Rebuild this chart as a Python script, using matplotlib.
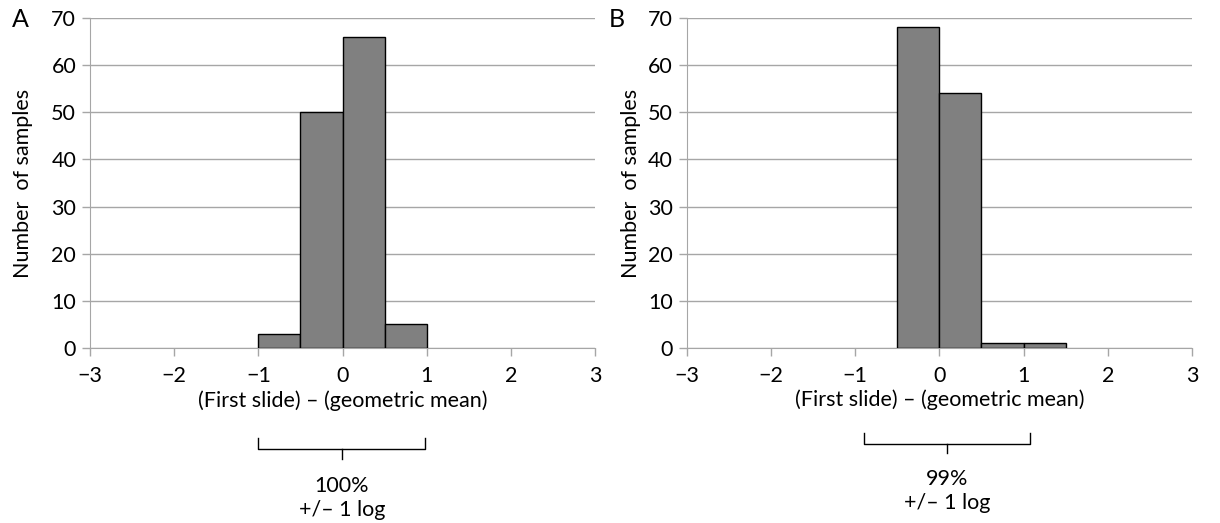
import matplotlib.pyplot as plt
import matplotlib.transforms as mtransforms

plt.rcParams['font.family'] = ['Lato', 'DejaVu Sans']

# histogram bins (left edges) and counts, bin width 0.5
edges_a = [-1.0, -0.5, 0.0, 0.5]
counts_a = [3, 50, 66, 5]
edges_b = [-0.5, 0.0, 0.5, 1.0]
counts_b = [68, 54, 1, 1]
bin_width = 0.5

xticks = [-3, -2, -1, 0, 1, 2, 3]
xtick_labels = ['\u22123', '\u22122', '\u22121', '0', '1', '2', '3']
yticks = [0, 10, 20, 30, 40, 50, 60, 70]

panels = [
    dict(letter='A', edges=edges_a, counts=counts_a, left=0.0738, ypad=13,
         xlabel_y=-0.16, br=(-1.0, 0.98), br_y=(-0.272, -0.306, -0.336),
         pct='100%', pct_y=-0.455),
    dict(letter='B', edges=edges_b, counts=counts_b, left=0.563, ypad=5,
         xlabel_y=-0.158, br=(-0.9, 1.08), br_y=(-0.258, -0.29, -0.318),
         pct='99%', pct_y=-0.432),
]

fig = plt.figure(figsize=(12.2, 5.23), dpi=100)
grey = '#a6a6a6'
fs = 15.5

for p in panels:
    ax = fig.add_axes([p['left'], 0.3346, 0.414, 0.631])
    ax.bar(p['edges'], p['counts'], width=bin_width, align='edge',
           color='#808080', edgecolor='black', linewidth=1, zorder=3)
    ax.set_xlim(-3, 3)
    ax.set_ylim(0, 70)
    ax.set_xticks(xticks)
    ax.set_xticklabels(xtick_labels)
    ax.set_yticks(yticks)
    ax.yaxis.grid(True, color=grey, linewidth=1, zorder=0)
    for s in ['top', 'right']:
        ax.spines[s].set_visible(False)
    for s in ['left', 'bottom']:
        ax.spines[s].set_color(grey)
    ax.tick_params(axis='both', colors=grey, labelcolor='black',
                   labelsize=fs, length=6, width=1, direction='out')
    ax.tick_params(axis='x', pad=7)
    ax.tick_params(axis='y', pad=4)
    ax.set_ylabel('Number  of samples', fontsize=fs, labelpad=p['ypad'])
    ax.text(-0.155, 0.995, p['letter'], transform=ax.transAxes,
            fontsize=18, ha='left', va='center')
    ax.text(0.5, p['xlabel_y'], '(First slide) \u2013 (geometric mean)',
            transform=ax.transAxes, fontsize=fs, ha='center', va='center')

    # bracket below the axis
    tr = mtransforms.blended_transform_factory(ax.transData, ax.transAxes)
    x0, x1 = p['br']
    yt, yh, yb = p['br_y']
    xm = (x0 + x1) / 2
    ax.plot([x0, x0, x1, x1], [yt, yh, yh, yt], color='black', lw=1,
            transform=tr, clip_on=False)
    ax.plot([xm, xm], [yh, yb], color='black', lw=1,
            transform=tr, clip_on=False)
    ax.text(xm, p['pct_y'], p['pct'] + '\n+/\u2013 1 log', transform=tr,
            fontsize=fs, ha='center', va='center', linespacing=1.25)

fig.savefig('out.png', dpi=100)
